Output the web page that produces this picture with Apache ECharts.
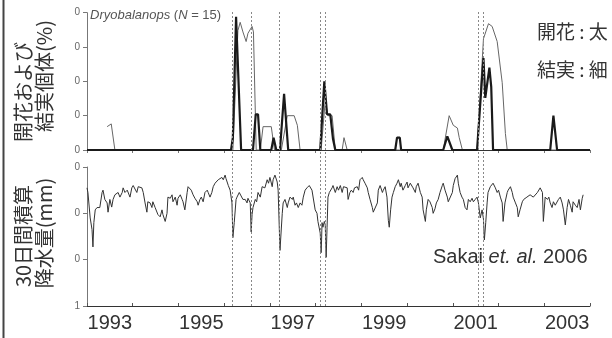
<!DOCTYPE html>
<html><head><meta charset="utf-8">
<script src="https://cdn.jsdelivr.net/npm/echarts@6/dist/echarts.min.js"></script>
<style>html,body{margin:0;padding:0;background:#fff}#c{width:612px;height:338px}</style>
</head><body><div id="c"></div>
<script>
// ---- data ----
const yearLabels = ['1993', '1995', '1997', '1999', '2001', '2003'];
const topTickLabels = ['0', '0', '0', '0', '0'];      // visible (clipped) labels, bottom->top
const rainTickLabels = ['1', '0', '0', '0'];          // visible (clipped) labels, bottom->top
const eventDates = [1996.18, 1996.59, 1997.21, 1998.10, 1998.22, 2001.56, 2001.67];

// flowering (% of trees, thick line)
const flowerT = [1993.00, 1996.15, 1996.19, 1996.26, 1996.37, 1996.63, 1996.69, 1996.74, 1996.79, 1997.03, 1997.08, 1997.14, 1997.22, 1997.31, 1997.40, 1998.10, 1998.19, 1998.25, 1998.32, 1998.38, 1998.43, 1999.74, 1999.78, 1999.84, 1999.87, 2000.79, 2000.88, 2000.99, 2001.53, 2001.67, 2001.71, 2001.80, 2001.84, 2001.88, 2003.13, 2003.20, 2003.28, 2004.00];
const flowerV = [0, 0, 9, 97, 0, 0, 26, 26, 0, 0, 9, 0, 0, 41, 0, 0, 50, 26, 26, 8, 0, 0, 9, 9, 0, 0, 10, 0, 0, 67, 38, 60, 46, 0, 0, 25, 0, 0];

// fruiting (% of trees, thin line)
const fruitT = [1993.44, 1993.53, 1993.57, 1993.61, 1996.19, 1996.30, 1996.35, 1996.41, 1996.48, 1996.52, 1996.61, 1996.64, 1996.70, 1996.79, 1996.85, 1997.03, 1997.10, 1997.25, 1997.38, 1997.53, 1997.60, 1997.66, 1998.12, 1998.21, 1998.27, 1998.36, 1998.43, 1998.58, 1998.62, 1998.69, 2000.79, 2000.92, 2001.01, 2001.10, 2001.14, 2001.21, 2001.53, 2001.67, 2001.78, 2001.86, 2001.97, 2002.08, 2002.15, 2002.19, 2004.00];
const fruitV = [17, 19, 18, 0, 0, 87, 93, 86, 79, 85, 90, 86, 0, 0, 17, 17, 0, 0, 25, 25, 18, 0, 0, 36, 25, 25, 0, 0, 9, 0, 0, 25, 18, 16, 9, 0, 0, 81, 92, 90, 79, 49, 12, 0, 0];

// 30-day cumulative rainfall (mm)
const rainT = [1993.00, 1993.02, 1993.07, 1993.11, 1993.13, 1993.15, 1993.18, 1993.22, 1993.28, 1993.33, 1993.35, 1993.39, 1993.44, 1993.46, 1993.50, 1993.54, 1993.57, 1993.61, 1993.68, 1993.72, 1993.77, 1993.79, 1993.83, 1993.88, 1993.94, 1993.98, 1994.01, 1994.05, 1994.09, 1994.12, 1994.16, 1994.20, 1994.23, 1994.27, 1994.31, 1994.33, 1994.38, 1994.42, 1994.44, 1994.49, 1994.51, 1994.55, 1994.60, 1994.64, 1994.66, 1994.71, 1994.75, 1994.77, 1994.82, 1994.86, 1994.88, 1994.93, 1994.97, 1994.99, 1995.04, 1995.08, 1995.10, 1995.14, 1995.19, 1995.21, 1995.25, 1995.28, 1995.32, 1995.36, 1995.41, 1995.43, 1995.47, 1995.50, 1995.54, 1995.58, 1995.63, 1995.65, 1995.69, 1995.73, 1995.76, 1995.80, 1995.84, 1995.87, 1995.89, 1995.95, 1995.98, 1996.02, 1996.04, 1996.09, 1996.13, 1996.17, 1996.19, 1996.22, 1996.26, 1996.28, 1996.33, 1996.37, 1996.41, 1996.46, 1996.50, 1996.52, 1996.57, 1996.59, 1996.61, 1996.63, 1996.68, 1996.71, 1996.74, 1996.79, 1996.83, 1996.86, 1996.89, 1996.94, 1996.97, 1997.00, 1997.05, 1997.07, 1997.11, 1997.16, 1997.18, 1997.22, 1997.27, 1997.29, 1997.33, 1997.38, 1997.40, 1997.44, 1997.49, 1997.51, 1997.55, 1997.58, 1997.62, 1997.66, 1997.70, 1997.73, 1997.77, 1997.81, 1997.86, 1997.92, 1997.99, 1998.03, 1998.05, 1998.10, 1998.12, 1998.13, 1998.14, 1998.16, 1998.19, 1998.21, 1998.23, 1998.25, 1998.27, 1998.30, 1998.36, 1998.38, 1998.43, 1998.47, 1998.50, 1998.54, 1998.58, 1998.61, 1998.69, 1998.71, 1998.75, 1998.78, 1998.82, 1998.85, 1998.91, 1998.94, 1998.97, 1999.02, 1999.04, 1999.08, 1999.13, 1999.15, 1999.19, 1999.24, 1999.26, 1999.30, 1999.35, 1999.37, 1999.41, 1999.46, 1999.48, 1999.52, 1999.56, 1999.59, 1999.61, 1999.64, 1999.67, 1999.70, 1999.74, 1999.78, 1999.81, 1999.85, 1999.87, 1999.91, 1999.96, 2000.00, 2000.02, 2000.07, 2000.13, 2000.18, 2000.20, 2000.24, 2000.29, 2000.33, 2000.35, 2000.40, 2000.42, 2000.46, 2000.50, 2000.55, 2000.57, 2000.61, 2000.64, 2000.68, 2000.72, 2000.77, 2000.79, 2000.83, 2000.88, 2000.90, 2000.94, 2000.99, 2001.01, 2001.05, 2001.10, 2001.12, 2001.16, 2001.20, 2001.23, 2001.27, 2001.31, 2001.34, 2001.38, 2001.42, 2001.45, 2001.49, 2001.53, 2001.56, 2001.60, 2001.64, 2001.67, 2001.69, 2001.72, 2001.75, 2001.77, 2001.82, 2001.86, 2001.88, 2001.93, 2001.97, 2002.00, 2002.04, 2002.08, 2002.10, 2002.14, 2002.19, 2002.21, 2002.26, 2002.30, 2002.32, 2002.37, 2002.41, 2002.43, 2002.47, 2002.52, 2002.55, 2002.58, 2002.62, 2002.65, 2002.69, 2002.76, 2002.85, 2002.91, 2002.96, 2002.98, 2003.02, 2003.07, 2003.10, 2003.13, 2003.17, 2003.20, 2003.24, 2003.28, 2003.31, 2003.35, 2003.39, 2003.42, 2003.46, 2003.50, 2003.53, 2003.57, 2003.61, 2003.63, 2003.68, 2003.72, 2003.76, 2003.79, 2003.83, 2003.85];
const rainV = [510, 490, 380, 330, 255, 360, 415, 425, 425, 490, 500, 460, 445, 405, 460, 427, 460, 480, 490, 470, 490, 510, 490, 500, 470, 510, 520, 515, 490, 515, 520, 510, 490, 445, 405, 450, 445, 425, 450, 425, 420, 395, 385, 415, 395, 365, 400, 470, 465, 480, 450, 470, 435, 465, 480, 460, 450, 415, 490, 515, 520, 500, 480, 465, 450, 435, 460, 470, 450, 490, 500, 490, 470, 490, 515, 530, 535, 545, 550, 555, 545, 565, 550, 520, 500, 445, 295, 360, 460, 470, 490, 475, 460, 460, 445, 465, 445, 320, 395, 425, 460, 450, 490, 470, 515, 520, 510, 545, 530, 555, 515, 545, 565, 535, 500, 240, 400, 445, 460, 425, 445, 470, 460, 470, 435, 445, 425, 445, 435, 470, 500, 510, 520, 500, 415, 400, 365, 315, 230, 285, 360, 340, 365, 350, 210, 340, 470, 490, 510, 520, 490, 515, 500, 520, 490, 515, 510, 460, 490, 500, 490, 510, 515, 500, 545, 555, 545, 530, 510, 490, 460, 425, 405, 400, 445, 500, 520, 490, 500, 515, 470, 370, 340, 415, 470, 490, 515, 530, 545, 515, 530, 500, 520, 535, 510, 530, 510, 490, 515, 530, 490, 470, 415, 365, 415, 460, 450, 425, 400, 420, 445, 460, 490, 520, 530, 500, 470, 450, 445, 490, 520, 550, 565, 530, 490, 470, 460, 425, 415, 460, 450, 465, 450, 460, 470, 445, 380, 415, 375, 285, 360, 445, 490, 515, 520, 530, 510, 490, 500, 470, 445, 365, 445, 490, 500, 515, 490, 470, 445, 425, 385, 415, 450, 460, 460, 470, 465, 480, 470, 490, 510, 490, 365, 470, 460, 470, 445, 425, 450, 435, 435, 460, 470, 445, 415, 350, 425, 460, 435, 405, 450, 435, 425, 460, 415, 465, 480];

// ---- chart ----
const zip = (a, b) => a.map((t, i) => [t, b[i]]);
const LAT = '"Liberation Sans", Arial, sans-serif';
const CJK = '"Noto Sans CJK JP", sans-serif';
const chart = echarts.init(document.getElementById('c'), null, {renderer: 'canvas'});

const yearStarts = [];
for (let y = 1993; y <= 2004; y++) yearStarts.push(y);
const oddYears = yearLabels.map(Number);

chart.setOption({
  animation: false,
  backgroundColor: '#fff',
  grid: [
    {left: 87, right: 22, top: 12.7, bottom: 188},
    {left: 87, right: 22, top: 167, bottom: 32},
    {left: 87, right: 22, top: 12, bottom: 32}
  ],
  xAxis: [
    {gridIndex: 0, type: 'value', min: 1993, max: 2004,
     axisLine: {show: true, lineStyle: {color: '#333', width: 1}},
     axisTick: {show: true, inside: false, length: 3, customValues: yearStarts, lineStyle: {color: '#777'}},
     axisLabel: {show: false}, splitLine: {show: false}},
    {gridIndex: 1, type: 'value', min: 1993, max: 2004,
     axisLine: {show: true, lineStyle: {color: '#333', width: 1}},
     axisTick: {show: true, inside: true, length: 3, customValues: yearStarts, lineStyle: {color: '#555'}},
     axisLabel: {show: true, customValues: oddYears.map(y => y + 0.5), formatter: v => String(Math.floor(v)),
       fontFamily: LAT, fontSize: 20, color: '#333', margin: 7},
     splitLine: {show: false}},
    {gridIndex: 2, type: 'value', min: 1993, max: 2004, show: false}
  ],
  yAxis: [
    {gridIndex: 0, type: 'value', min: 0, max: 100, interval: 25,
     axisLine: {show: true, lineStyle: {color: '#777'}},
     axisTick: {show: true, length: 4, lineStyle: {color: '#777'}},
     axisLabel: {formatter: v => topTickLabels[Math.round(v / 25)], fontFamily: LAT, fontSize: 10, color: '#666', margin: 7},
     splitLine: {show: false}},
    {gridIndex: 1, type: 'value', min: 0, max: 600, interval: 200,
     axisLine: {show: true, lineStyle: {color: '#777'}},
     axisTick: {show: true, length: 4, lineStyle: {color: '#777'}},
     axisLabel: {formatter: v => rainTickLabels[Math.round(v / 200)], fontFamily: LAT, fontSize: 10, color: '#666', margin: 7},
     splitLine: {show: false}},
    {gridIndex: 2, type: 'value', min: 0, max: 1, show: false}
  ],
  series: [
    {type: 'line', xAxisIndex: 2, yAxisIndex: 2, data: [[1993, 0], [2004, 0]], symbol: 'none',
     lineStyle: {width: 0, opacity: 0}, silent: true, z: 1,
     markLine: {silent: true, symbol: 'none', label: {show: false},
       lineStyle: {type: [2, 2], color: '#888', width: 1},
       data: eventDates.map(d => ({xAxis: d}))}},
    {type: 'line', xAxisIndex: 0, yAxisIndex: 0, data: zip(fruitT, fruitV), symbol: 'none',
     lineStyle: {width: 1, color: '#666'}, z: 2},
    {type: 'line', xAxisIndex: 0, yAxisIndex: 0, data: zip(flowerT, flowerV), symbol: 'none',
     lineStyle: {width: 2.2, color: '#1a1a1a'}, z: 3},
    {type: 'line', xAxisIndex: 1, yAxisIndex: 1, data: zip(rainT, rainV), symbol: 'none',
     lineStyle: {width: 1, color: '#333'}, z: 3}
  ],
  graphic: [
    {type: 'line', shape: {x1: 3.5, y1: 0, x2: 3.5, y2: 338}, style: {stroke: '#444', lineWidth: 2}},
    {type: 'text', x: 90, y: 15, style: {text: '{i|Dryobalanops} (N = 15)'.replace('(N', '({i|N}'),
      rich: {i: {fontStyle: 'italic', fontFamily: LAT, fontSize: 13, fill: '#555'}},
      font: '13px ' + LAT, fill: '#555', textVerticalAlign: 'middle', verticalAlign: 'middle'}},
    {type: 'text', x: 537, y: 32, style: {text: '開花 : 太', font: '19px ' + CJK, fill: '#333', textVerticalAlign: 'middle', verticalAlign: 'middle'}},
    {type: 'text', x: 537, y: 70, style: {text: '結実 : 細', font: '19px ' + CJK, fill: '#333', textVerticalAlign: 'middle', verticalAlign: 'middle'}},
    {type: 'text', x: 433, y: 257, style: {text: 'Sakai {i|et. al.} 2006',
      rich: {i: {fontStyle: 'italic', fontFamily: LAT, fontSize: 20, fill: '#333'}},
      font: '20px ' + LAT, fill: '#333', textVerticalAlign: 'middle', verticalAlign: 'middle'}},
    {type: 'text', x: 23, y: 92, rotation: Math.PI / 2, style: {text: '開花および', font: '20px ' + CJK, fill: '#333',
      textAlign: 'center', align: 'center', textVerticalAlign: 'middle', verticalAlign: 'middle'}},
    {type: 'text', x: 44, y: 76, rotation: Math.PI / 2, style: {text: '結実個体(%)', font: '20px ' + CJK, fill: '#333',
      textAlign: 'center', align: 'center', textVerticalAlign: 'middle', verticalAlign: 'middle'}},
    {type: 'text', x: 23, y: 236, rotation: Math.PI / 2, style: {text: '30日間積算', font: '20px ' + CJK, fill: '#333',
      textAlign: 'center', align: 'center', textVerticalAlign: 'middle', verticalAlign: 'middle'}},
    {type: 'text', x: 44, y: 233, rotation: Math.PI / 2, style: {text: '降水量(mm)', font: '20px ' + CJK, fill: '#333',
      textAlign: 'center', align: 'center', textVerticalAlign: 'middle', verticalAlign: 'middle'}}
  ]
});
</script>
</body></html>
